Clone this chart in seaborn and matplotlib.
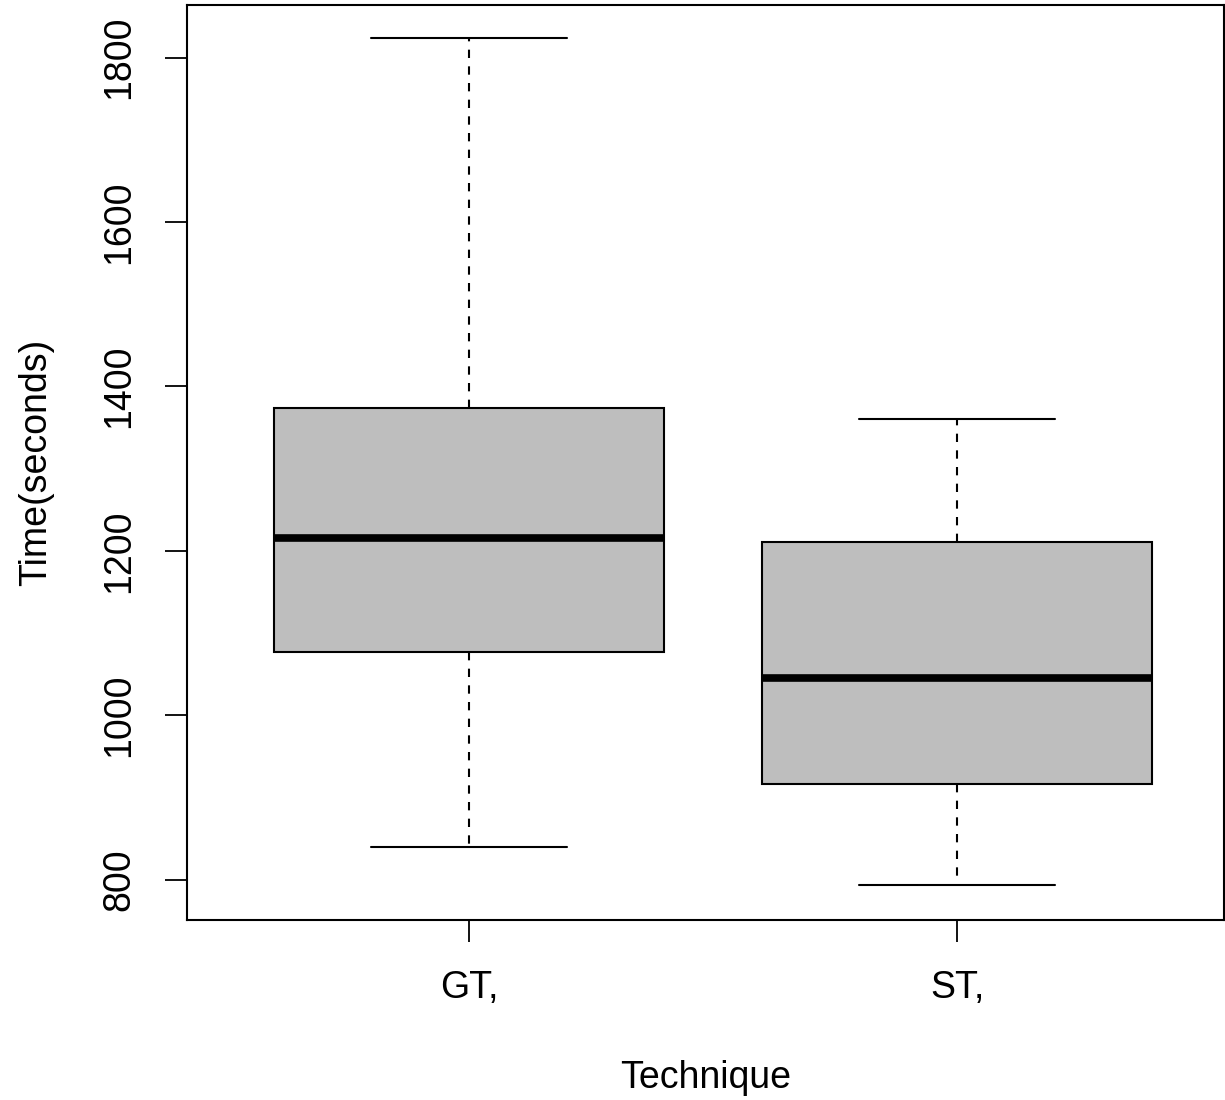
import matplotlib
matplotlib.use("Agg")
import matplotlib.pyplot as plt
import seaborn as sns
import pandas as pd

# Data (five-number summaries, per technique)
techniques = ["GT,", "ST,"]
gt_values = [840, 1077, 1216, 1374, 1824]
st_values = [794, 917, 1045, 1211, 1360]
y_ticks = [800, 1000, 1200, 1400, 1600, 1800]

df = pd.DataFrame({
    "Technique": [techniques[0]] * len(gt_values) + [techniques[1]] * len(st_values),
    "Time": gt_values + st_values,
})

sns.set_theme(style="white")
plt.rcParams['font.family'] = ['Liberation Sans', 'DejaVu Sans']
plt.rcParams['text.color'] = 'black'
plt.rcParams['axes.labelcolor'] = 'black'
plt.rcParams['xtick.color'] = 'black'
plt.rcParams['ytick.color'] = 'black'

fig = plt.figure(figsize=(12.25, 11), dpi=100)
ax = fig.add_axes([187 / 1225, 1 - 920 / 1100, (1224 - 187) / 1225, (920 - 5) / 1100])

sns.boxplot(
    data=df, x="Technique", y="Time", order=techniques, ax=ax,
    whis=(0, 100), width=0.8, color="#BEBEBE", saturation=1,
    linecolor="black", linewidth=1.5,
    boxprops=dict(facecolor="#BEBEBE", edgecolor="black", linewidth=1.5),
    whiskerprops=dict(color="black", linestyle=(0, (4, 4)), linewidth=1.5),
    capprops=dict(color="black", linewidth=1.5),
    medianprops=dict(color="black", linewidth=5.5, solid_capstyle="butt"),
    showfliers=False,
)

ax.set_xlim(-0.578, 1.547)
ax.set_ylim(751, 1864)
ax.set_yticks(y_ticks)
ax.set_yticklabels([str(v) for v in y_ticks], rotation=90, va="center")
ax.set_xlabel("Technique", fontsize=27, labelpad=39)
ax.set_ylabel("Time(seconds)", fontsize=27, labelpad=34)
ax.tick_params(axis="both", which="major", labelsize=27, length=16, width=1.3,
               direction="out", color="black", labelcolor="black", left=True, bottom=True)
ax.tick_params(axis="x", pad=20)
ax.tick_params(axis="y", pad=20)
for s in ax.spines.values():
    s.set_visible(True)
    s.set_color("black")
    s.set_linewidth(1.5)
ax.grid(False)

fig.savefig("out.png", dpi=100, facecolor="white")
